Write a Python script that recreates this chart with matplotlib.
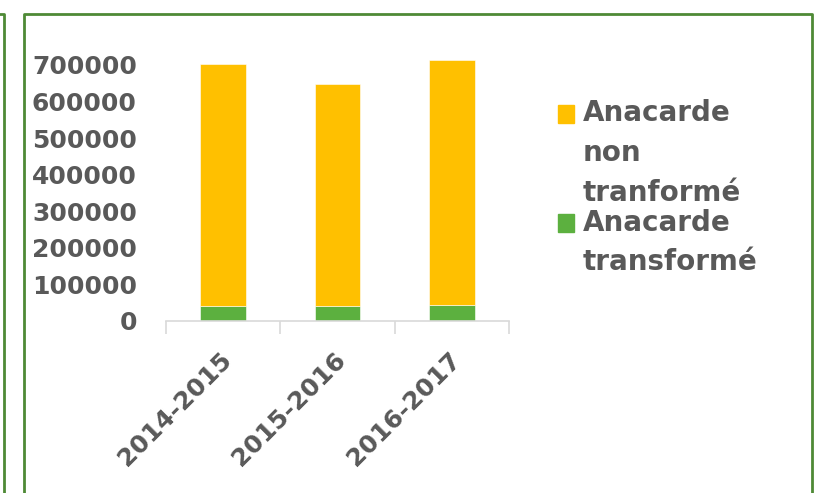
import matplotlib
matplotlib.use("Agg")
import matplotlib.pyplot as plt
from matplotlib.patches import Rectangle
from matplotlib.lines import Line2D
import numpy as np

# valeurs
years = ["2014-2015", "2015-2016", "2016-2017"]
transforme = [41000, 41000, 44500]
non_transforme = [661000, 608000, 668500]
legend_labels = [["Anacarde", "non", "tranformé"], ["Anacarde", "transformé"]]

yellow = "#FFC000"
green = "#5CB03F"
grey = "#595959"
border = "#4E8A35"

plt.rcParams["font.family"] = ["DejaVu Sans"]
plt.rcParams["font.weight"] = "bold"

W, H = 818, 493
fig = plt.figure(figsize=(W / 100, H / 100), dpi=100)
ax = fig.add_axes([166 / W, 1 - 321 / H, (509 - 166) / W, (321 - 46.7) / H])

x = np.arange(len(years))
ax.bar(x, transforme, width=0.4, color=green, edgecolor="white", linewidth=0.4)
ax.bar(x, non_transforme, width=0.4, bottom=transforme, color=yellow,
       edgecolor="white", linewidth=0.4)

ax.set_xlim(-0.5, 2.5)
ax.set_ylim(0, 750000)
ax.set_yticks(np.arange(0, 700001, 100000))
ax.set_yticklabels([str(v) for v in range(0, 700001, 100000)],
                   fontsize=18, color=grey, fontweight="bold")
ax.tick_params(axis="y", length=0, pad=21)

for s in ["top", "right", "left"]:
    ax.spines[s].set_visible(False)
ax.spines["bottom"].set_color("#D9D9D9")
ax.spines["bottom"].set_linewidth(1.2)

ax.set_xticks(x)
ax.set_xticklabels([])
ax.tick_params(axis="x", which="major", length=0)
ax.set_xticks([-0.5, 0.5, 1.5, 2.5], minor=True)
ax.tick_params(axis="x", which="minor", length=9, width=1.2, color="#D9D9D9")

for i, yr in enumerate(years):
    ax.annotate(yr, xy=(i, 0), xycoords=("data", "axes fraction"),
                xytext=(5, -35), textcoords="offset pixels",
                rotation=45, ha="right", va="center", rotation_mode="anchor",
                fontsize=18, color=grey, fontweight="bold")

# legende dessinee a la main
fig.patches.append(Rectangle((558 / W, 1 - 123 / H), 16 / W, 18 / H,
                             transform=fig.transFigure, color=yellow))
fig.patches.append(Rectangle((558 / W, 1 - 232 / H), 16 / W, 18 / H,
                             transform=fig.transFigure, color=green))
for lab, yy in zip(legend_labels[0], [113, 153, 193]):
    fig.text(583 / W, 1 - yy / H, lab, fontsize=20, color=grey,
             fontweight="bold", va="center", ha="left")
for lab, yy in zip(legend_labels[1], [223, 262]):
    fig.text(583 / W, 1 - yy / H, lab, fontsize=20, color=grey,
             fontweight="bold", va="center", ha="left")

# cadres verts
fig.add_artist(Line2D([24 / W, 24 / W, 812 / W, 812 / W],
                      [0, 1 - 14 / H, 1 - 14 / H, 0],
                      transform=fig.transFigure, color=border, linewidth=2))
fig.add_artist(Line2D([0, 4 / W, 4 / W], [1 - 14 / H, 1 - 14 / H, 0],
                      transform=fig.transFigure, color=border, linewidth=2))

fig.savefig("out.png", dpi=100, facecolor="white")
